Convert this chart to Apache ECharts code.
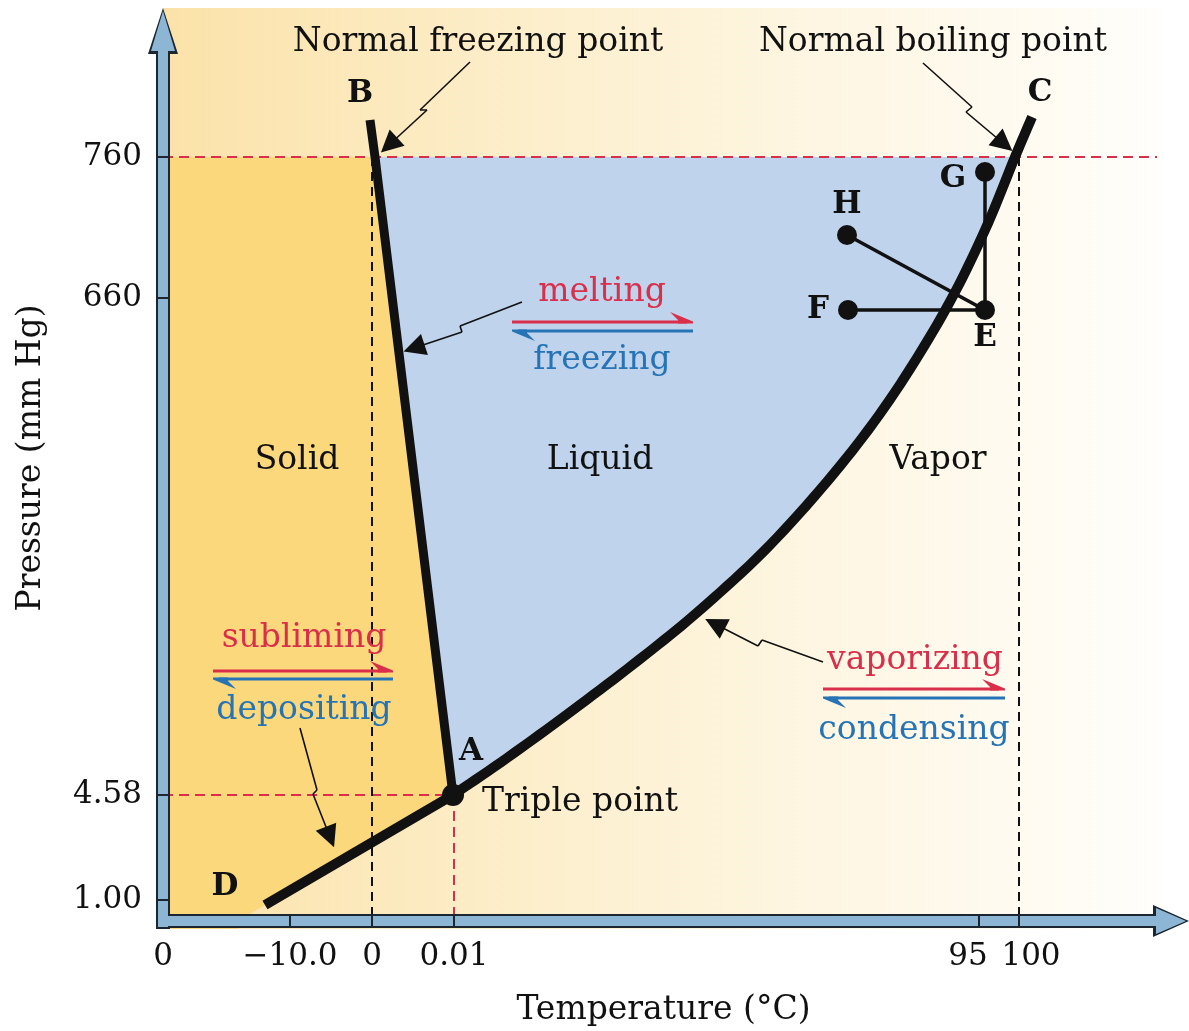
<!DOCTYPE html>
<html>
<head>
<meta charset="utf-8">
<script src="https://cdn.jsdelivr.net/npm/echarts@6/dist/echarts.min.js"></script>
<style>
  html, body { margin: 0; padding: 0; background: #ffffff; }
  #chart { width: 1189px; height: 1031px; }
</style>
</head>
<body>
<div id="chart"></div>
<script>
// ---------------- DATA (schematic axis positions: the phase diagram is not to scale) ----------------
const xTickPos = [0, 127, 209, 291, 816, 856];
const xTickLabels = ['0', '\u221210.0', '0', '0.01', '95', '100'];
const yTickPos = [21, 126, 623, 764];
const yTickLabels = ['1.00', '4.58', '660', '760'];

const pointA = [290, 126];          // triple point (0.01 °C, 4.58 mm Hg)
const pointB = [207, 801];
const pointC = [869, 804];
const pointD = [102, 16];
const normalFreezing = [212, 764];  // 0 °C, 760 mm Hg
const normalBoiling = [852, 764];   // 100 °C, 760 mm Hg
const vaporCurve = [[290, 126], [344, 163], [410, 211], [477, 262], [537, 311], [607, 376],
                    [677, 455], [732, 529], [784, 614], [822, 691], [852, 764], [869, 804]];
const boilingIndex = 10;            // index of the normal boiling point in vaporCurve
const sublimationFoot = [75, 0];    // where the D–A line meets the temperature axis

const pointE = [822, 611];
const pointF = [685, 611];
const pointG = [822, 749];
const pointH = [684, 686];

const guide760 = [[0, 764], [994, 764]];
const guideTripleP = [[0, 126], [290, 126]];
const guideTripleT = [[291, 126], [291, 0]];
const guideZero = [[209, 764], [209, 0]];
const guideHundred = [[856, 764], [856, 0]];

const plotFrame = [[0, -8], [1000, 913]];

const regionLabels = ['Solid', 'Liquid', 'Vapor'];
const regionLabelAt = [[134, 461], [437, 461], [775, 461]];
const processForward = ['melting', 'subliming', 'vaporizing'];
const processForwardAt = [[439, 629], [141, 283], [752, 261]];
const processBackward = ['freezing', 'depositing', 'condensing'];
const processBackwardAt = [[439, 561], [141, 211], [751, 191]];
const notes = ['Normal freezing point', 'Normal boiling point'];
const notesAt = [[315, 879], [770, 879]];
const tripleNote = 'Triple point';
const tripleNoteAt = [319, 119];

const forwardHarpoons = [[349, 599, 530, 599], [50, 250, 230, 250], [660, 232, 842, 232]];
const backwardHarpoons = [[530, 590, 349, 590], [230, 242, 50, 242], [842, 223, 660, 223]];

const pointers = [
  [[307, 859], [257, 811], [264, 811], [226, 776]],   // normal freezing point
  [[760, 858], [809, 814], [803, 809], [841, 777]],   // normal boiling point
  [[359, 619], [297, 595], [299, 589], [251, 573]],   // melting
  [[660, 259], [599, 281], [595, 275], [552, 297]],   // vaporizing
  [[137, 193], [154, 131], [150, 127], [167, 84]]     // depositing
];

// ---------------- STYLE ----------------
const FONT = '"DejaVu Serif", "Liberation Serif", serif';
const INK = '#111111';
const RED = '#d92f4a';
const BLUE = '#2674b5';
const AXIS_DARK = '#1c2630';
const AXIS_LIGHT = '#8db6d4';

function bandAxis(gridIndex, min, max, offset, width, color, symbolSize, z, pos) {
  return {
    type: 'value', gridIndex: gridIndex, min: min, max: max, position: pos, offset: offset, z: z,
    axisLine: { show: true, onZero: false, symbol: ['none', 'triangle'], symbolSize: symbolSize,
      lineStyle: { color: color, width: width, cap: 'butt' } },
    axisTick: { show: false }, axisLabel: { show: false }, splitLine: { show: false }
  };
}

const labelFont = { fontFamily: FONT, fontSize: 31, color: INK };

const xAxes = [
  bandAxis(0, -7, 1008, -8, 14, AXIS_DARK, [32, 36], 10, 'bottom'),
  bandAxis(1, -5, 1008, -6, 10, AXIS_LIGHT, [26, 30], 11, 'bottom'),
  {
    type: 'value', gridIndex: 0, min: -7, max: 1008, position: 'bottom', offset: -15, z: 12,
    axisLine: { show: false, onZero: false },
    axisTick: { show: true, customValues: xTickPos.filter(v => v !== 0), length: 14, inside: false,
      lineStyle: { color: AXIS_DARK, width: 2 } },
    axisLabel: {
      show: true, customValues: xTickPos, margin: 27, ...labelFont,
      formatter: function (v) {
        const i = xTickPos.indexOf(v);
        const t = xTickLabels[i];
        if (i === 4) return '{l|' + t + '}';
        if (i === 5) return '{r|' + t + '}';
        return t;
      },
      rich: {
        l: { ...labelFont, padding: [0, 22, 0, 0] },
        r: { ...labelFont, padding: [0, 0, 0, 24] }
      }
    },
    splitLine: { show: false },
    name: 'Temperature (\u00B0C)', nameLocation: 'middle', nameGap: 80, nameMoveOverlap: false,
    nameTextStyle: { fontFamily: FONT, fontSize: 33, color: INK }
  }
];

const yAxes = [
  bandAxis(0, -8, 890, -7, 14, AXIS_DARK, [30, 46], 10, 'left'),
  bandAxis(1, -6, 890, -5, 10, AXIS_LIGHT, [24, 40], 11, 'left'),
  {
    type: 'value', gridIndex: 0, min: -8, max: 890, position: 'left', offset: -14, z: 12,
    axisLine: { show: false, onZero: false },
    axisTick: { show: true, customValues: yTickPos, length: 14, inside: false,
      lineStyle: { color: AXIS_DARK, width: 2 } },
    axisLabel: {
      show: true, customValues: yTickPos, margin: 28, ...labelFont,
      formatter: function (v) { return yTickLabels[yTickPos.indexOf(v)]; }
    },
    splitLine: { show: false },
    name: 'Pressure (mm Hg)', nameLocation: 'middle', nameGap: 122, nameMoveOverlap: false,
    nameTextStyle: { fontFamily: FONT, fontSize: 33, color: INK, padding: [0, 0, 0, 44] }
  }
];

// Catmull-Rom smoothing of the projected curve (drawing only; passes through every data point)
const SMOOTH_STEPS = 10;
function smoothPixels(px) {
  const out = [];
  for (let i = 0; i < px.length - 1; i++) {
    const p0 = px[Math.max(i - 1, 0)], p1 = px[i], p2 = px[i + 1], p3 = px[Math.min(i + 2, px.length - 1)];
    for (let s = 0; s < SMOOTH_STEPS; s++) {
      const t = s / SMOOTH_STEPS, t2 = t * t, t3 = t2 * t;
      const f = k => 0.5 * (2 * p1[k] + (-p0[k] + p2[k]) * t + (2 * p0[k] - 5 * p1[k] + 4 * p2[k] - p3[k]) * t2
        + (-p0[k] + 3 * p1[k] - 3 * p2[k] + p3[k]) * t3);
      out.push([f(0), f(1)]);
    }
  }
  out.push(px[px.length - 1]);
  return out;
}

function polygonSeries(name, pts, fill, z) {
  return {
    type: 'custom', name: name, xAxisIndex: 0, yAxisIndex: 0, z: z, silent: true, data: pts,
    renderItem: function (params, api) {
      if (params.dataIndex !== 0) return null;
      return { type: 'polygon', shape: { points: pts.map(p => api.coord(p)) }, style: { fill: fill } };
    }
  };
}

function lineSeries(name, data, lineStyle, z, extra) {
  return Object.assign({
    type: 'line', name: name, xAxisIndex: 0, yAxisIndex: 0, data: data, z: z, silent: true,
    symbol: 'none', showSymbol: false, clip: false, animation: false, lineStyle: lineStyle
  }, extra || {});
}

function harpoonSeries(name, data, color) {
  return {
    type: 'custom', name: name, xAxisIndex: 0, yAxisIndex: 0, z: 7, silent: true, data: data,
    encode: { x: [0, 2], y: [1, 3] }, itemStyle: { color: color },
    renderItem: function (params, api) {
      const p1 = api.coord([api.value(0), api.value(1)]);
      const p2 = api.coord([api.value(2), api.value(3)]);
      const dx = p2[0] - p1[0], dy = p2[1] - p1[1];
      const len = Math.hypot(dx, dy);
      const ux = dx / len, uy = dy / len;
      const px = uy, py = -ux;
      const c = api.visual('color');
      const bl = 23, bw = 10;
      return {
        type: 'group', children: [
          { type: 'line', shape: { x1: p1[0], y1: p1[1], x2: p2[0] - ux * 6, y2: p2[1] - uy * 6 },
            style: { stroke: c, lineWidth: 3 } },
          { type: 'polygon', shape: { points: [
              [p2[0], p2[1] + py * 0.5],
              [p2[0] - ux * bl + px * bw, p2[1] - uy * bl + py * bw],
              [p2[0] - ux * (bl - 8) + px * 2, p2[1] - uy * (bl - 8) + py * 2],
              [p2[0] - ux * (bl - 8) - px * 1.5, p2[1] - uy * (bl - 8) - py * 1.5],
              [p2[0], p2[1] - py * 1.5]
            ] }, style: { fill: c } }
        ]
      };
    }
  };
}

const letterLabel = { show: true, position: 'inside', formatter: '{b}', color: INK, opacity: 1,
  fontFamily: FONT, fontWeight: 'bold', fontSize: 31 };

const dots = [
  { name: 'A', value: pointA, symbolSize: 22, label: { ...letterLabel, offset: [18, -43] } },
  { name: 'E', value: pointE, symbolSize: 20, label: { ...letterLabel, offset: [0, 28] } },
  { name: 'F', value: pointF, symbolSize: 20, label: { ...letterLabel, offset: [-30, 0] } },
  { name: 'G', value: pointG, symbolSize: 20, label: { ...letterLabel, offset: [-32, 7] } },
  { name: 'H', value: pointH, symbolSize: 20, label: { ...letterLabel, offset: [0, -30] } }
];
const endLetters = [
  { name: 'B', value: pointB, label: { ...letterLabel, offset: [-10, -26] } },
  { name: 'C', value: pointC, label: { ...letterLabel, offset: [8, -24] } },
  { name: 'D', value: pointD, label: { ...letterLabel, offset: [-40, -18] } }
];

const textItems = [].concat(
  regionLabels.map((t, i) => ({ name: t, value: regionLabelAt[i], label: { color: INK } })),
  processForward.map((t, i) => ({ name: t, value: processForwardAt[i], label: { color: RED } })),
  processBackward.map((t, i) => ({ name: t, value: processBackwardAt[i], label: { color: BLUE } })),
  notes.map((t, i) => ({ name: t, value: notesAt[i], label: { color: INK } })),
  [{ name: tripleNote, value: tripleNoteAt, label: { color: INK, align: 'left' } }]
);

const pointerBody = [];
const pointerTips = [];
pointers.forEach(function (p) {
  for (let i = 0; i < p.length - 2; i++) pointerBody.push({ coords: [p[i], p[i + 1]] });
  pointerTips.push({ coords: [p[p.length - 2], p[p.length - 1]] });
});

const series = [
  {
    type: 'custom', name: 'background', xAxisIndex: 0, yAxisIndex: 0, z: 0, silent: true, data: plotFrame,
    renderItem: function (params, api) {
      if (params.dataIndex !== 0) return null;
      const a = api.coord(plotFrame[0]), b = api.coord(plotFrame[1]);
      return { type: 'rect', shape: { x: a[0], y: b[1], width: b[0] - a[0], height: a[1] - b[1] },
        style: { fill: new echarts.graphic.LinearGradient(0, 0, 1, 0, [
          { offset: 0, color: '#fbe2a9' }, { offset: 0.45, color: '#fdf1d3' }, { offset: 1, color: '#fffefb' }]) } };
    }
  },
  polygonSeries('Solid', [[-7, 764], normalFreezing, pointA, pointD, sublimationFoot, [sublimationFoot[0], -8], [-7, -8]], '#fcd87c', 1),
  {
    type: 'custom', name: 'Liquid', xAxisIndex: 0, yAxisIndex: 0, z: 1, silent: true, data: vaporCurve,
    renderItem: function (params, api) {
      if (params.dataIndex !== 0) return null;
      const dense = smoothPixels(vaporCurve.map(p => api.coord(p)));
      const pts = [api.coord(normalFreezing)].concat(dense.slice(0, boilingIndex * SMOOTH_STEPS + 1).reverse());
      return { type: 'polygon', shape: { points: pts }, style: { fill: '#bfd3ec' } };
    }
  },

  lineSeries('760 guide', guide760, { color: RED, width: 2, type: [10, 6] }, 2),
  lineSeries('4.58 guide', guideTripleP, { color: RED, width: 2, type: [10, 6] }, 2),
  lineSeries('0.01 guide', guideTripleT, { color: RED, width: 2, type: [10, 6] }, 2),
  lineSeries('0 guide', guideZero, { color: INK, width: 2, type: [9, 6] }, 2),
  lineSeries('100 guide', guideHundred, { color: INK, width: 2, type: [9, 6] }, 2),

  lineSeries('melting curve', [pointB, normalFreezing, pointA], { color: INK, width: 9, cap: 'butt', join: 'round' }, 3),
  {
    type: 'custom', name: 'vapor curve', xAxisIndex: 0, yAxisIndex: 0, z: 3, silent: true, data: vaporCurve,
    renderItem: function (params, api) {
      if (params.dataIndex !== 0) return null;
      const dense = smoothPixels(vaporCurve.map(p => api.coord(p)));
      return { type: 'polyline', shape: { points: dense },
        style: { stroke: INK, lineWidth: 10, fill: null, lineJoin: 'round', lineCap: 'butt' } };
    }
  },
  lineSeries('sublimation curve', [pointD, pointA], { color: INK, width: 10, cap: 'butt', join: 'round' }, 3),

  lineSeries('H-E-G path', [pointH, pointE, pointG], { color: INK, width: 3.5, join: 'miter' }, 4),
  lineSeries('F-E path', [pointF, pointE], { color: INK, width: 3.5 }, 4),

  {
    type: 'scatter', name: 'points', xAxisIndex: 0, yAxisIndex: 0, z: 5, silent: true,
    symbol: 'circle', itemStyle: { color: INK, opacity: 1 }, data: dots
  },
  {
    type: 'scatter', name: 'end letters', xAxisIndex: 0, yAxisIndex: 0, z: 5, silent: true,
    symbolSize: 1, itemStyle: { color: 'rgba(0,0,0,0)', opacity: 1 }, data: endLetters
  },
  {
    type: 'lines', name: 'pointer bodies', coordinateSystem: 'cartesian2d', xAxisIndex: 0, yAxisIndex: 0,
    z: 6, silent: true, symbol: 'none', lineStyle: { color: INK, width: 1.6, opacity: 1, curveness: 0 },
    data: pointerBody
  },
  {
    type: 'lines', name: 'pointer tips', coordinateSystem: 'cartesian2d', xAxisIndex: 0, yAxisIndex: 0,
    z: 6, silent: true, symbol: ['none', 'triangle'], symbolSize: 22,
    lineStyle: { color: INK, width: 1.6, opacity: 1, curveness: 0 }, itemStyle: { color: INK, opacity: 1 },
    data: pointerTips
  },
  harpoonSeries('forward', forwardHarpoons, RED),
  harpoonSeries('backward', backwardHarpoons, BLUE),
  {
    type: 'scatter', name: 'texts', xAxisIndex: 0, yAxisIndex: 0, z: 8, silent: true,
    symbolSize: 1, itemStyle: { color: 'rgba(0,0,0,0)', opacity: 1 },
    label: { show: true, position: 'inside', formatter: '{b}', fontFamily: FONT, fontSize: 33, opacity: 1 },
    data: textItems
  }
];

const option = {
  animation: false,
  backgroundColor: '#ffffff',
  grid: [
    { left: 156, right: 18, top: 31, bottom: 102, outerBoundsMode: 'none', containLabel: false },
    { left: 158, right: 18, top: 31, bottom: 104, outerBoundsMode: 'none', containLabel: false }
  ],
  xAxis: xAxes,
  yAxis: yAxes,
  series: series
};

const chart = echarts.init(document.getElementById('chart'), null, { renderer: 'canvas' });
chart.setOption(option);
</script>
</body>
</html>
